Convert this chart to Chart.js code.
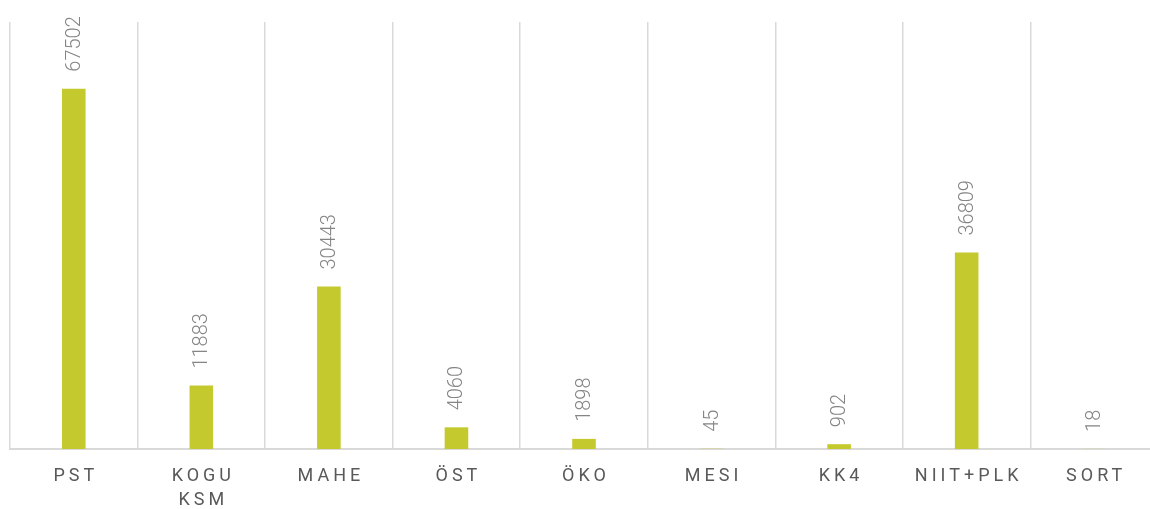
<!DOCTYPE html>
<html>
<head>
<meta charset="utf-8">
<script src="https://cdn.jsdelivr.net/npm/chart.js@4/dist/chart.umd.min.js"></script>
<style>
  html, body { margin: 0; padding: 0; background: #fff; overflow: hidden; }
  #wrap { width: 1160px; height: 509px; }
</style>
</head>
<body>
<div id="wrap"><canvas id="chart" width="1160" height="509"></canvas></div>
<script>
// chart data
const categories = [['PST'], ['KOGU', 'KSM'], ['MAHE'], ['ÖST'], ['ÖKO'], ['MESI'], ['KK4'], ['NIIT+PLK'], ['SORT']]
const values = [67502, 11883, 30443, 4060, 1898, 45, 902, 36809, 18]
const yMax = 80000

const barColor = '#c4ca2e'
const gridColor = '#d9d9d9'

// rotated value labels above the bars
const valueLabels = {
  id: 'valueLabels',
  afterDatasetsDraw(chart) {
    const ctx = chart.ctx
    const meta = chart.getDatasetMeta(0)
    ctx.save()
    ctx.font = '300 20px Roboto'
    ctx.fillStyle = '#858585'
    ctx.textAlign = 'left'
    ctx.textBaseline = 'middle'
    meta.data.forEach((bar, i) => {
      ctx.save()
      ctx.translate(bar.x, bar.y - 17)
      ctx.rotate(-Math.PI / 2)
      ctx.fillText(String(values[i]), 0, 1)
      ctx.restore()
    })
    ctx.restore()
  }
}

// category labels with letter spacing
const categoryLabels = {
  id: 'categoryLabels',
  afterDraw(chart) {
    const ctx = chart.ctx
    const xScale = chart.scales.x
    ctx.save()
    ctx.font = '400 18px Roboto'
    ctx.fillStyle = '#595959'
    ctx.letterSpacing = '4px'
    ctx.textAlign = 'center'
    ctx.textBaseline = 'middle'
    categories.forEach((lines, i) => {
      const x = xScale.getPixelForValue(i) + 2
      lines.forEach((line, j) => {
        ctx.fillText(line, x, 476 + j * 24)
      })
    })
    ctx.restore()
  }
}

new Chart(document.getElementById('chart'), {
  type: 'bar',
  data: {
    labels: categories.map(c => c.join(' ')),
    datasets: [{
      data: values,
      backgroundColor: barColor,
      borderWidth: 0,
      categoryPercentage: 0.185,
      barPercentage: 1
    }]
  },
  options: {
    responsive: false,
    animation: false,
    layout: { padding: { left: 10, right: 2, top: 22, bottom: 60 } },
    plugins: {
      legend: { display: false },
      tooltip: { enabled: false }
    },
    scales: {
      x: {
        offset: true,
        grid: { display: true, offset: true, color: gridColor, lineWidth: 1.5, drawTicks: false },
        border: { display: true, color: gridColor, width: 2 },
        ticks: { display: false }
      },
      y: {
        display: false,
        min: 0,
        max: yMax
      }
    }
  },
  plugins: [valueLabels, categoryLabels]
})
</script>
</body>
</html>
